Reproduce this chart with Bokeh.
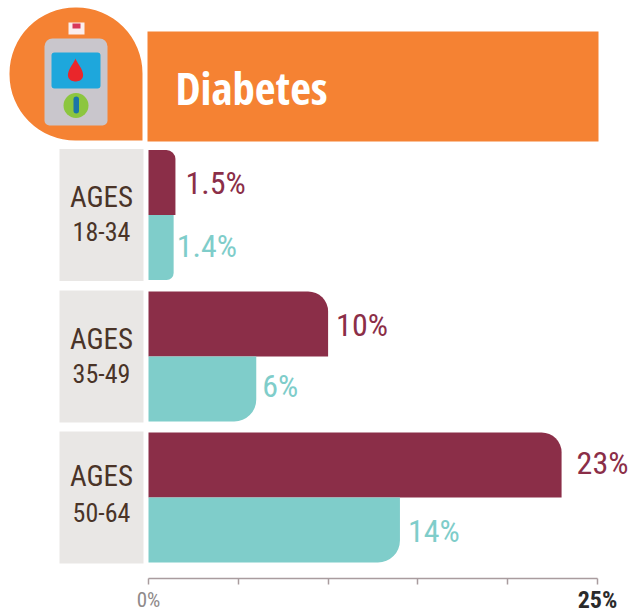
import numpy as np
from bokeh.plotting import figure
from bokeh.models import Range1d, FixedTicker, LinearAxis
from bokeh.core.properties import value
from bokeh.embed import file_html
from bokeh.resources import INLINE

title = "Diabetes"
age_top = ["AGES", "AGES", "AGES"]
age_bottom = ["18-34", "35-49", "50-64"]
series_a = [1.5, 10, 23]
series_b = [1.4, 6, 14]
labels_a = ["1.5%", "10%", "23%"]
labels_b = ["1.4%", "6%", "14%"]
tick_values = [0, 5, 10, 15, 20, 25]

MAROON = "#8b2e48"
TEAL = "#7fcdca"
ORANGE = "#f58233"
FONT_NAME = "Roboto Condensed"
FONT = value(FONT_NAME)

PX = (597 - 148) / 25
W, H = 630, 613
x0 = lambda px: (px - 148) / PX

p = figure(width=W, height=H, output_backend="svg", toolbar_location=None,
           x_range=Range1d(x0(0), x0(630)), y_range=Range1d(613, 0),
           x_axis_location=None, y_axis_location=None, min_border=0)
p.outline_line_color = None
p.grid.visible = False

# Header band and title
p.quad(left=x0(147), right=x0(598), top=31, bottom=141, fill_color=ORANGE, line_color=None)
p.text(x=[x0(175)], y=[87], text=[title], text_color="white", text_font=value("Open Sans Condensed"),
       text_font_size="45px", text_baseline="middle")

# Icon badge
p.block(x=[x0(9)], y=[140], width=[133 / PX], height=[-133], fill_color=ORANGE, line_color=None,
        border_radius=(66, 66, 0, 66))
p.block(x=[x0(44)], y=[125], width=[63 / PX], height=[-87], fill_color="#c9c6cc", line_color=None,
        border_radius=(8, 8, 5, 5))
p.quad(left=x0(68), right=x0(84), top=22, bottom=34, fill_color="#fbeeee", line_color=None)
p.quad(left=x0(72), right=x0(80), top=23, bottom=28, fill_color="#d8385a", line_color=None)
p.block(x=[x0(51)], y=[88], width=[49 / PX], height=[-36], fill_color="#1ea7dc", line_color=None,
        border_radius=3)
t = np.linspace(0, 2 * np.pi, 60)
drop_r = 11 * np.sin(t) * np.abs(np.sin(t / 2)) ** 1.6
p.patch(x0(75) + drop_r / PX, 58 + 23 * (1 - np.cos(t)) / 2, fill_color="#e9262b", line_color=None)
p.scatter(x=[x0(75.5)], y=[105], size=25, marker="circle", fill_color="#8cc63f", line_color=None)
p.block(x=[x0(73)], y=[113], width=[5.5 / PX], height=[-17], fill_color="#1b75a8", line_color=None,
        border_radius=3)

# Rows
tops = [149.5, 291, 432]
offs_a = [10, 8, 15]
offs_b = [3, 6, 8]
dy_a = [33, 33, 30]
dy_b = [96, 94, 98]
dy_top = [46.5, 47.5, 43.5]
dy_bottom = [81, 81.5, 79.5]
for i in range(3):
    t0 = tops[i]
    h = 65
    ra, rb = (9, 7) if i == 0 else (20, 22)
    p.quad(left=x0(59), right=x0(143), top=t0 - 1, bottom=t0 + 2 * h + 1, fill_color="#e9e7e5", line_color=None)
    p.text(x=[x0(101)], y=[t0 + dy_top[i]], text=[age_top[i]], text_color="#4a3428", text_font=FONT,
           text_font_size="29px", text_align="center", text_baseline="middle")
    p.text(x=[x0(101)], y=[t0 + dy_bottom[i]], text=[age_bottom[i]], text_color="#4a3428", text_font=FONT,
           text_font_size="26px", text_align="center", text_baseline="middle")
    p.hbar(y=[t0 + h / 2], left=[0], right=[series_a[i]], height=[h], fill_color=MAROON, line_color=None,
           border_radius=(0, ra, 0, 0))
    p.hbar(y=[t0 + h * 1.5], left=[0], right=[series_b[i]], height=[h], fill_color=TEAL, line_color=None,
           border_radius=(0, 0, rb, 0))
    p.text(x=[series_a[i]], y=[t0 + dy_a[i]], text=[labels_a[i]], x_offset=[offs_a[i]], text_color=MAROON,
           text_font=FONT, text_font_size="32px", text_baseline="middle")
    p.text(x=[series_b[i]], y=[t0 + dy_b[i]], text=[labels_b[i]], x_offset=[offs_b[i]], text_color=TEAL,
           text_font=FONT, text_font_size="32px", text_baseline="middle")


def make_axis(label_map, color, size, style, line, standoff):
    ax = LinearAxis(fixed_location=578, bounds=(0, 25))
    ax.ticker = FixedTicker(ticks=tick_values)
    ax.major_label_overrides = {v: label_map.get(v, "") for v in tick_values}
    ax.axis_line_color = "#a99c9e" if line else None
    ax.axis_line_width = 1.5
    ax.major_tick_line_color = "#a99c9e" if line else None
    ax.major_tick_line_width = 1.5
    ax.major_tick_in = 0
    ax.major_tick_out = 6
    ax.minor_tick_line_color = None
    ax.major_label_text_color = color
    ax.major_label_text_font = FONT_NAME
    ax.major_label_text_font_size = size
    ax.major_label_text_font_style = style
    ax.major_label_standoff = standoff
    p.add_layout(ax, "below")


make_axis({0: "0%"}, "#8f8a8a", "21px", "normal", True, 3)
make_axis({25: "25%"}, "#2b2b2b", "24px", "bold", False, 1)

open("out.html", "w").write(file_html(p, INLINE))
